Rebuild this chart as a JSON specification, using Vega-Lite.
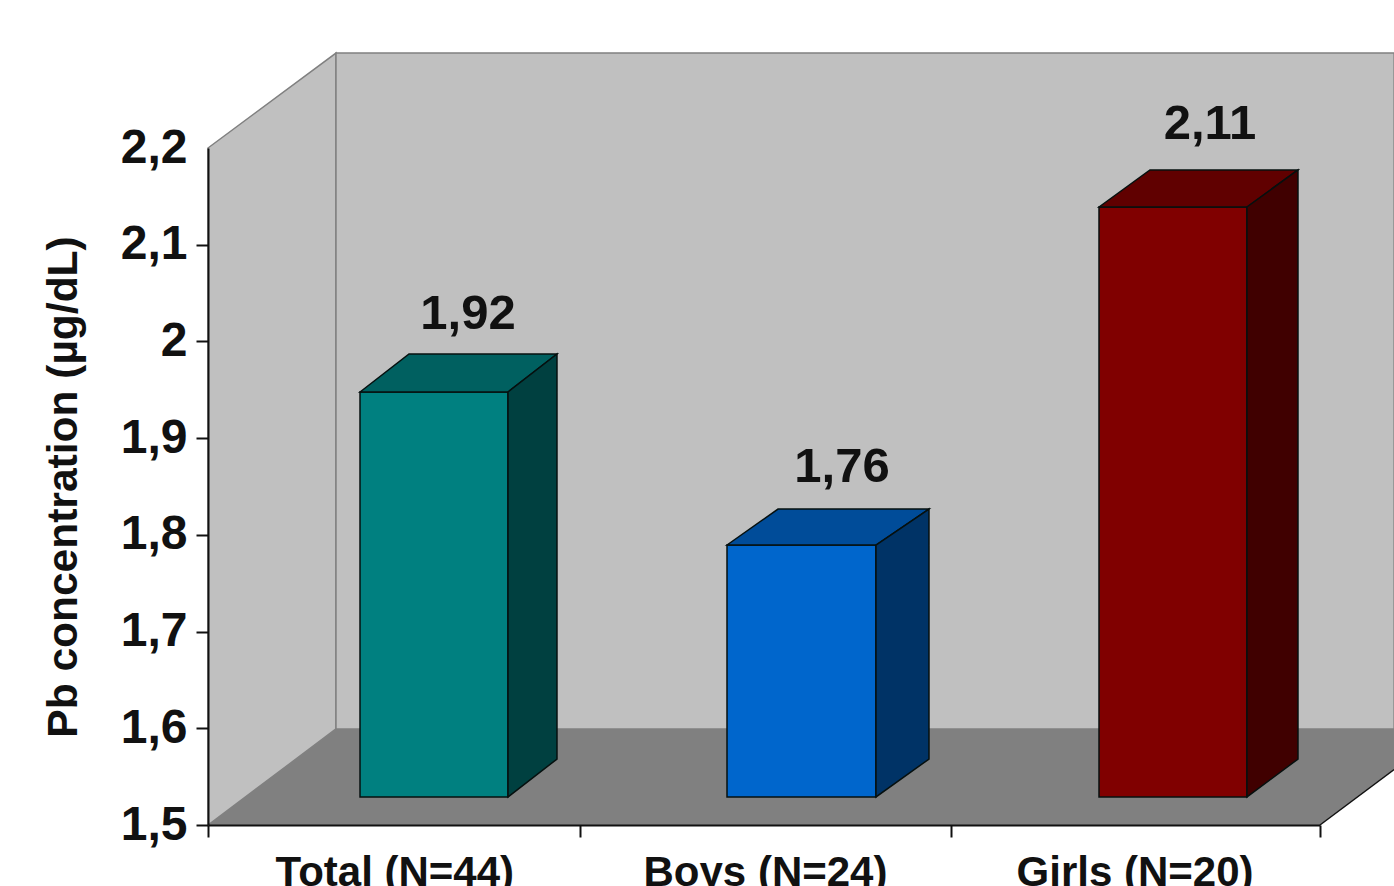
{
"$schema":"https://vega.github.io/schema/vega-lite/v6.json",
"width":1112,"height":677,
"autosize":{"type":"none"},
"padding":{"left":208,"top":148,"right":74,"bottom":61},
"background":"#ffffff",
"config":{"view":{"stroke":null},"font":"Liberation Sans"},
"datasets":{
"room":[
{"part":"leftWall","x":0,"y":2.2,"y2":1.5},
{"part":"leftWall","x":0.3453,"y":2.2982,"y2":1.5993},
{"part":"backWall","x":0.3453,"y":2.2982,"y2":1.5993},
{"part":"backWall","x":3.2,"y":2.2982,"y2":1.5993},
{"part":"floor","x":0,"y":1.5,"y2":1.5},
{"part":"floor","x":0.3453,"y":1.5993,"y2":1.5},
{"part":"floor","x":3,"y":1.5993,"y2":1.5},
{"part":"floor","x":3.2,"y":1.5993,"y2":1.5574}
],
"edge":[{"x":3,"y":1.5},{"x":3.2,"y":1.5574}],
"bars":[
{"part":"TotalFront","x":0.4101,"y":1.9477,"y2":1.529},
{"part":"TotalFront","x":0.8094,"y":1.9477,"y2":1.529},
{"part":"TotalTop","x":0.4101,"y":1.9477,"y2":1.9477},
{"part":"TotalTop","x":0.5423,"y":1.987,"y2":1.9477},
{"part":"TotalTop","x":0.8094,"y":1.987,"y2":1.9477},
{"part":"TotalTop","x":0.9415,"y":1.987,"y2":1.987},
{"part":"TotalSide","x":0.8094,"y":1.9477,"y2":1.529},
{"part":"TotalSide","x":0.9415,"y":1.987,"y2":1.5682},
{"part":"BoysFront","x":1.4002,"y":1.7895,"y2":1.529},
{"part":"BoysFront","x":1.8021,"y":1.7895,"y2":1.529},
{"part":"BoysTop","x":1.4002,"y":1.7895,"y2":1.7895},
{"part":"BoysTop","x":1.5378,"y":1.8267,"y2":1.7895},
{"part":"BoysTop","x":1.8021,"y":1.8267,"y2":1.7895},
{"part":"BoysTop","x":1.9451,"y":1.8267,"y2":1.8267},
{"part":"BoysSide","x":1.8021,"y":1.7895,"y2":1.529},
{"part":"BoysSide","x":1.9451,"y":1.8267,"y2":1.5682},
{"part":"GirlsFront","x":2.4038,"y":2.139,"y2":1.529},
{"part":"GirlsFront","x":2.803,"y":2.139,"y2":1.529},
{"part":"GirlsTop","x":2.4038,"y":2.139,"y2":2.139},
{"part":"GirlsTop","x":2.5413,"y":2.1773,"y2":2.139},
{"part":"GirlsTop","x":2.803,"y":2.1773,"y2":2.139},
{"part":"GirlsTop","x":2.9406,"y":2.1773,"y2":2.1773},
{"part":"GirlsSide","x":2.803,"y":2.139,"y2":1.529},
{"part":"GirlsSide","x":2.9406,"y":2.1773,"y2":1.5682}
],
"values":[
{"label":"1,92","x":0.7014,"y":2.0125},
{"label":"1,76","x":1.7104,"y":1.8545},
{"label":"2,11","x":2.7032,"y":2.209}
],
"groups":[
{"group":"Total (N=44)","x":0.504,"y":1.4369},
{"group":"Boys (N=24)","x":1.504,"y":1.4369},
{"group":"Girls (N=20)","x":2.501,"y":1.4369}
]
},
"layer":[
{
"data":{"name":"room"},
"transform":[{"filter":"datum.part !== 'floor'"}],
"mark":{"type":"area","orient":"vertical","stroke":"#808080","strokeWidth":1.5},
"encoding":{
"x":{"field":"x","type":"quantitative","scale":{"domain":[0,3],"nice":false,"zero":false},
"axis":{"values":[0,1.0036,2.0045,3],"labels":false,"title":null,"grid":false,"tickSize":12,"tickWidth":2,"tickColor":"#111111","domainColor":"#111111","domainWidth":2,"zindex":1}},
"y":{"field":"y","type":"quantitative","scale":{"domain":[1.5,2.2],"nice":false,"zero":false},
"axis":{"values":[1.5,1.6,1.7,1.8,1.9,2,2.1,2.2],"labelExpr":"replace(format(datum.value,'.1~f'),'.',',')","labelFont":"Liberation Sans","labelFontWeight":"bold","labelFontSize":48,"labelColor":"#111111","labelPadding":9,"labelBaseline":"middle","tickSize":12,"tickWidth":2,"tickColor":"#111111","tickOpacity":{"condition":{"test":"datum.value>2.15","value":0},"value":1},"domainColor":"#111111","domainWidth":2,"grid":false,"zindex":1,"title":"Pb concentration (µg/dL)","titleFont":"Liberation Sans","titleFontWeight":"bold","titleFontSize":42.5,"titleColor":"#111111","titleAngle":-90,"titleBaseline":"alphabetic","titleAlign":"center","titleX":-132,"titleY":338.5}},
"y2":{"field":"y2"},
"color":{"field":"part","type":"nominal","legend":null,"scale":{"domain":["leftWall","backWall"],"range":["#c0c0c0","#c0c0c0"]}}
}
},
{
"data":{"name":"room"},
"transform":[{"filter":"datum.part === 'floor'"}],
"mark":{"type":"area","orient":"vertical","fill":"#808080"},
"encoding":{
"x":{"field":"x","type":"quantitative"},
"y":{"field":"y","type":"quantitative"},
"y2":{"field":"y2"}
}
},
{
"data":{"name":"edge"},
"mark":{"type":"line","color":"#111111","strokeWidth":1.5},
"encoding":{"x":{"field":"x","type":"quantitative"},"y":{"field":"y","type":"quantitative"}}
},
{
"data":{"name":"bars"},
"mark":{"type":"area","orient":"vertical","stroke":"#06100f","strokeWidth":1.5},
"encoding":{
"x":{"field":"x","type":"quantitative"},
"y":{"field":"y","type":"quantitative"},
"y2":{"field":"y2"},
"fill":{"field":"part","type":"nominal","legend":null,"scale":{
"domain":["TotalFront","TotalTop","TotalSide","BoysFront","BoysTop","BoysSide","GirlsFront","GirlsTop","GirlsSide"],
"range":["#008080","#006060","#004040","#0066cc","#004c99","#003366","#800000","#600000","#400000"]}}
}
},
{
"data":{"name":"values"},
"mark":{"type":"text","font":"Liberation Sans","fontWeight":"bold","fontSize":49,"color":"#111111","baseline":"alphabetic","align":"center"},
"encoding":{"x":{"field":"x","type":"quantitative"},"y":{"field":"y","type":"quantitative"},"text":{"field":"label"}}
},
{
"data":{"name":"groups"},
"mark":{"type":"text","font":"Liberation Sans","fontWeight":"bold","fontSize":42,"color":"#111111","baseline":"alphabetic","align":"center"},
"encoding":{"x":{"field":"x","type":"quantitative"},"y":{"field":"y","type":"quantitative"},"text":{"field":"group"}}
}
],
"resolve":{"scale":{"color":"independent"}}
}
